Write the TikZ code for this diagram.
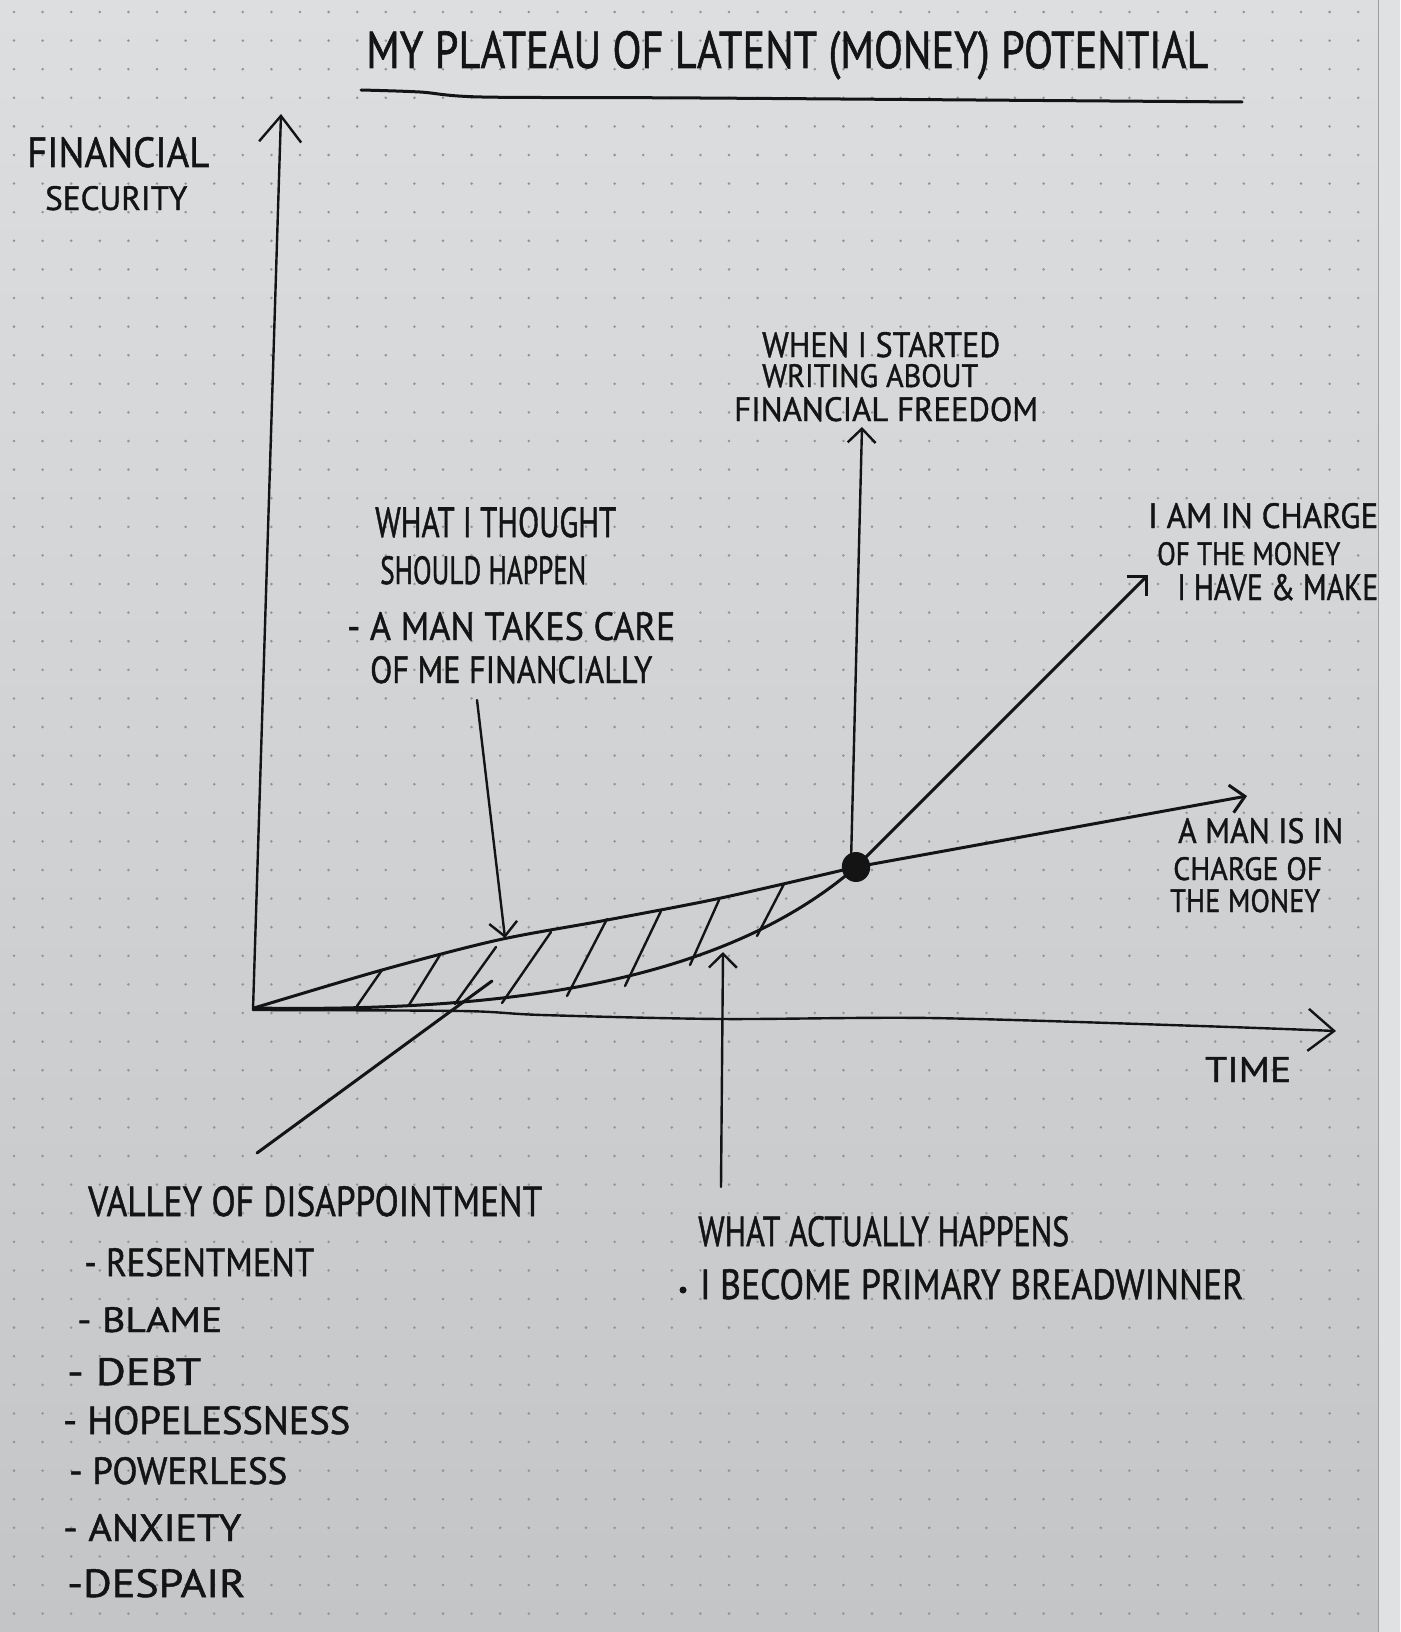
\documentclass[tikz,border=0pt]{standalone}
\usepackage{fontspec}
\usepackage{graphicx}
\usetikzlibrary{arrows.meta}
\newfontfamily\hand[FakeBold=1.2]{PT Sans}
\definecolor{ink}{HTML}{141414}
\definecolor{papertop}{HTML}{DDDEE0}
\definecolor{paperbot}{HTML}{C4C5C7}
\definecolor{dotc}{HTML}{929396}
% handwritten-style label squeezed into a given width and cap height
\newcommand\hw[3]{\resizebox{#1pt}{#2pt}{\hand #3}}
\newcommand\lbl[6]{\node[lab] (#1) at (#2,#3) {\hw{#4}{#5}{#6}};}
\begin{document}
\begin{tikzpicture}[x=1pt,y=-1pt,
  pen/.style={draw=ink,line width=3pt,line cap=round,line join=round},
  thin pen/.style={draw=ink,line width=2.4pt,line cap=round,line join=round},
  bigbarb/.style={-{Straight Barb[length=26pt,width=42pt]}},
  barb/.style={-{Straight Barb[length=14pt,width=28pt]}},
  lab/.style={inner sep=0pt,anchor=base west,text=ink}]
% paper
\useasboundingbox (0,0) rectangle (1400,1632);
\shade[top color=papertop,bottom color=paperbot] (0,0) rectangle (1400,1632);
\fill[papertop!92!white] (1378,0) rectangle (1400,1632);
\draw[paperbot!80!black,line width=0.8pt] (1378,0) -- (1378,1632);
% dotted grid
\foreach \i in {0,...,47}{
  \foreach \j in {0,...,56}{
    \fill[dotc] (14+\i*28.6,12+\j*28.6) circle (1.4);
  }
}
% title and underline
\lbl{title}{366}{68}{842}{37}{MY PLATEAU OF LATENT (MONEY) POTENTIAL}
\coordinate (u0) at (361,90);
\coordinate (u1) at (1242,102);
\draw[pen] plot[smooth] coordinates {(u0) (420,92) (482,97) (700,98) (u1)};
% axes
\coordinate (O) at (253,1010);
\coordinate (ytop) at (281,114);
\coordinate (xend) at (1336,1031);
\draw[thin pen,bigbarb] (O) -- (ytop);
\draw[thin pen,bigbarb] plot[smooth] coordinates {(O) (462,1011) (542,1015) (721,1019) (930,1018) (1200,1026) (xend)};
\lbl{ylab1}{27}{167}{182}{30}{FINANCIAL}
\lbl{ylab2}{45}{210}{142}{24}{SECURITY}
\lbl{xlab}{1205}{1082}{86}{25}{TIME}
% turning point
\node[circle,fill=ink,minimum width=27pt,minimum height=30pt,inner sep=0pt,
  xscale=0.95] (dot) at (856,867) {};
% expected path and actual path, with the gap between them hatched
\draw[pen] plot[smooth] coordinates {(254,1008) (382,970) (498,940) (607,920) (721,898) (dot.center)};
\draw[pen] (254,1008) .. controls (500,1012) and (720,985) .. (dot.center);
\foreach \a/\b/\c/\d in {357/1006/382/970, 409/1005/440/955, 455/1004/496/947,
    502/1003/551/932, 567/996/607/919, 625/986/661/911, 690/965/719/900, 757/936/784/884}
  \draw[thin pen] (\a,\b) -- (\c,\d);
\coordinate (manend) at (1247,796);
\coordinate (meend) at (1148,575);
\draw[pen,barb] (dot.center) -- (manend);
\draw[pen,barb] (dot.center) -- (meend);
% valley of disappointment
\coordinate (v0) at (257,1153);
\coordinate (v1) at (492,981);
\draw[pen] (v0) -- (v1);
% annotations
\lbl{start1}{762}{357}{238}{25}{WHEN I STARTED}
\lbl{start2}{762}{387}{216}{23}{WRITING ABOUT}
\lbl{start3}{734}{421}{304}{24}{FINANCIAL FREEDOM}
\coordinate (starttip) at (862,427);
\draw[thin pen,barb] (851,862) -- (starttip);

\lbl{th1}{375}{537}{241}{30}{WHAT I THOUGHT}
\lbl{th2}{380}{584}{206}{28}{SHOULD HAPPEN}
\lbl{th3}{347}{640}{328}{28}{- A MAN TAKES CARE}
\lbl{th4}{370}{683}{282}{27}{OF ME FINANCIALLY}
\coordinate (thfrom) at (477,700);
\coordinate (thtip) at (505,938);
\draw[thin pen,barb] (thfrom) -- (thtip);

\lbl{me1}{1148}{528}{230}{25}{I AM IN CHARGE}
\lbl{me2}{1157}{565}{183}{23}{OF THE MONEY}
\lbl{me3}{1177}{600}{201}{26}{I HAVE \& MAKE}

\lbl{man1}{1178}{843}{165}{25}{A MAN IS IN}
\lbl{man2}{1173}{880}{149}{23}{CHARGE OF}
\lbl{man3}{1170}{912}{150}{23}{THE MONEY}

\lbl{ac1}{698}{1246}{371}{30}{WHAT ACTUALLY HAPPENS}
\node[circle,fill=ink,inner sep=0pt,minimum size=7pt] (bul) at (683,1290) {};
\lbl{ac2}{700}{1299}{543}{30}{I BECOME PRIMARY BREADWINNER}
\coordinate (acfrom) at (721,1187);
\coordinate (actip) at (723,952);
\draw[thin pen,barb] (acfrom) -- (actip);

\lbl{va0}{88}{1216}{454}{30}{VALLEY OF DISAPPOINTMENT}
\lbl{va1}{84}{1276}{230}{28}{- RESENTMENT}
\lbl{va2}{77}{1332}{145}{25}{- BLAME}
\lbl{va3}{67}{1385}{134}{27}{- DEBT}
\lbl{va4}{63}{1434}{287}{28}{- HOPELESSNESS}
\lbl{va5}{69}{1484}{218}{27}{- POWERLESS}
\lbl{va6}{63}{1541}{178}{27}{- ANXIETY}
\lbl{va7}{67}{1597}{178}{28}{-DESPAIR}
\end{tikzpicture}
\end{document}
